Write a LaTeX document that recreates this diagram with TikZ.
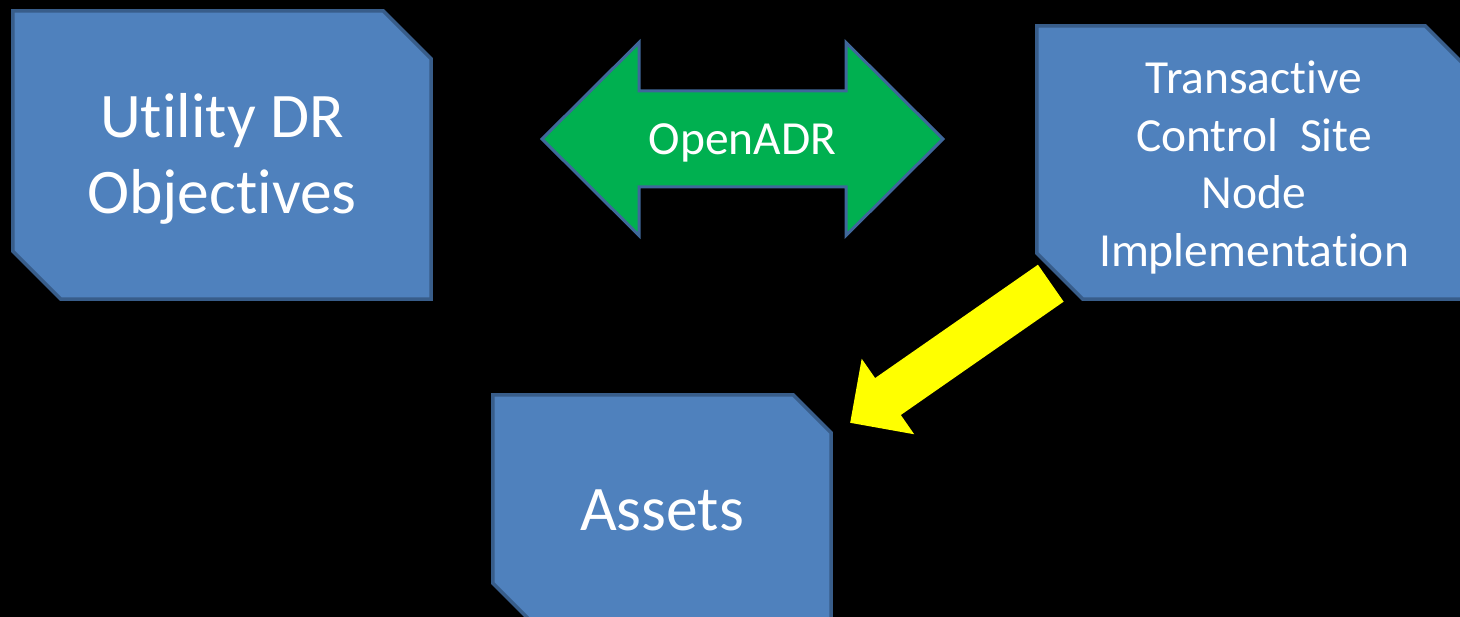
\documentclass[tikz,border=0pt]{standalone}
\usepackage{fontspec}
\setmainfont{Carlito}[Ligatures={NoCommon}]
\usetikzlibrary{calc}

% layers: black backdrop, then the shape fills, then the texts
\pgfdeclarelayer{backdrop}
\pgfdeclarelayer{shapes}
\pgfsetlayers{backdrop,shapes,main}

\definecolor{boxfill}{HTML}{4F81BD}
\definecolor{boxedge}{HTML}{385D8A}
\definecolor{adrgreen}{HTML}{00B050}
\definecolor{adredge}{HTML}{3F679A}
\definecolor{flowyellow}{HTML}{FFFF00}

\tikzset{
  block/.style={rectangle, inner sep=0pt},
  labtext/.style={text=white, align=center, inner sep=0pt},
  boxline/.style={draw=boxedge, fill=boxfill, line width=3.5pt, line join=miter},
  adrline/.style={draw=adredge, fill=adrgreen, line width=3pt, line join=miter},
  flowarrow/.style={fill=flowyellow},
  bigtext/.style={font=\fontsize{63.5}{76}\selectfont},
  midtext/.style={font=\fontsize{47.5}{57.5}\selectfont},
}

% outline of a box with its top-right and bottom-left corners cut off
\newcommand\snipoutline[2]{%
  \draw[boxline] (#1.north west) -- ([xshift=-#2]#1.north east)
    -- ([yshift=-#2]#1.north east) -- (#1.south east)
    -- ([xshift=#2]#1.south west) -- ([yshift=#2]#1.south west) -- cycle;}

\begin{document}
\begin{tikzpicture}[x=1pt,y=-1pt]
\useasboundingbox (0,0) rectangle (1460,617);
\clip (0,0) rectangle (1460,617);
\begin{pgfonlayer}{backdrop}
  \fill[black] (0,0) rectangle (1460,617);
\end{pgfonlayer}

% boxes with their texts
\node[block, minimum width=418pt, minimum height=288pt,
  label={[labtext, bigtext, yshift=-4pt]center:{Utility DR\\Objectives}}] (util) at (222,155) {};
\node[block, minimum width=434pt, minimum height=273pt,
  label={[labtext, midtext, yshift=-5pt]center:{Transactive\\Control\ \ Site\\Node\\Implementation}}]
  (tcs) at (1254,162.5) {};
\node[block, minimum width=338pt, minimum height=226pt,
  label={[labtext, bigtext, yshift=-2pt]center:{Assets}}] (assets) at (662,508) {};

% label of the two-way arrow
\node[labtext, midtext] (adr) at (742.5,143) {OpenADR};

% end points of the yellow arrow
\coordinate (ytail) at ([xshift=14pt,yshift=16pt]tcs.south west);
\coordinate (ytip) at ([xshift=19pt,yshift=-28pt]assets.north east);
\coordinate (yhead) at ($(ytip)!46pt!(ytail)$);

\begin{pgfonlayer}{shapes}
  % yellow block arrow from the site node down to the assets
  \fill[flowarrow]
    ($(ytail)!22.5pt!90:(ytip)$) -- ($(yhead)!22.5pt!90:(ytip)$)
    -- ($(yhead)!46pt!90:(ytip)$) -- (ytip)
    -- ($(yhead)!46pt!-90:(ytip)$) -- ($(yhead)!22.5pt!-90:(ytip)$)
    -- ($(ytail)!22.5pt!-90:(ytip)$) -- cycle;

  \snipoutline{util}{48pt}
  \snipoutline{tcs}{46pt}
  \snipoutline{assets}{38pt}

  % green two-way arrow round the OpenADR label
  \draw[adrline, shift={([yshift=4pt]adr.center)}]
    (-200.5,0) -- (-103.5,-96.5) -- (-103.5,-48) -- (103.5,-48) -- (103.5,-96.5)
    -- (200.5,0) -- (103.5,96.5) -- (103.5,48) -- (-103.5,48) -- (-103.5,96.5) -- cycle;
\end{pgfonlayer}
\end{tikzpicture}
\end{document}
